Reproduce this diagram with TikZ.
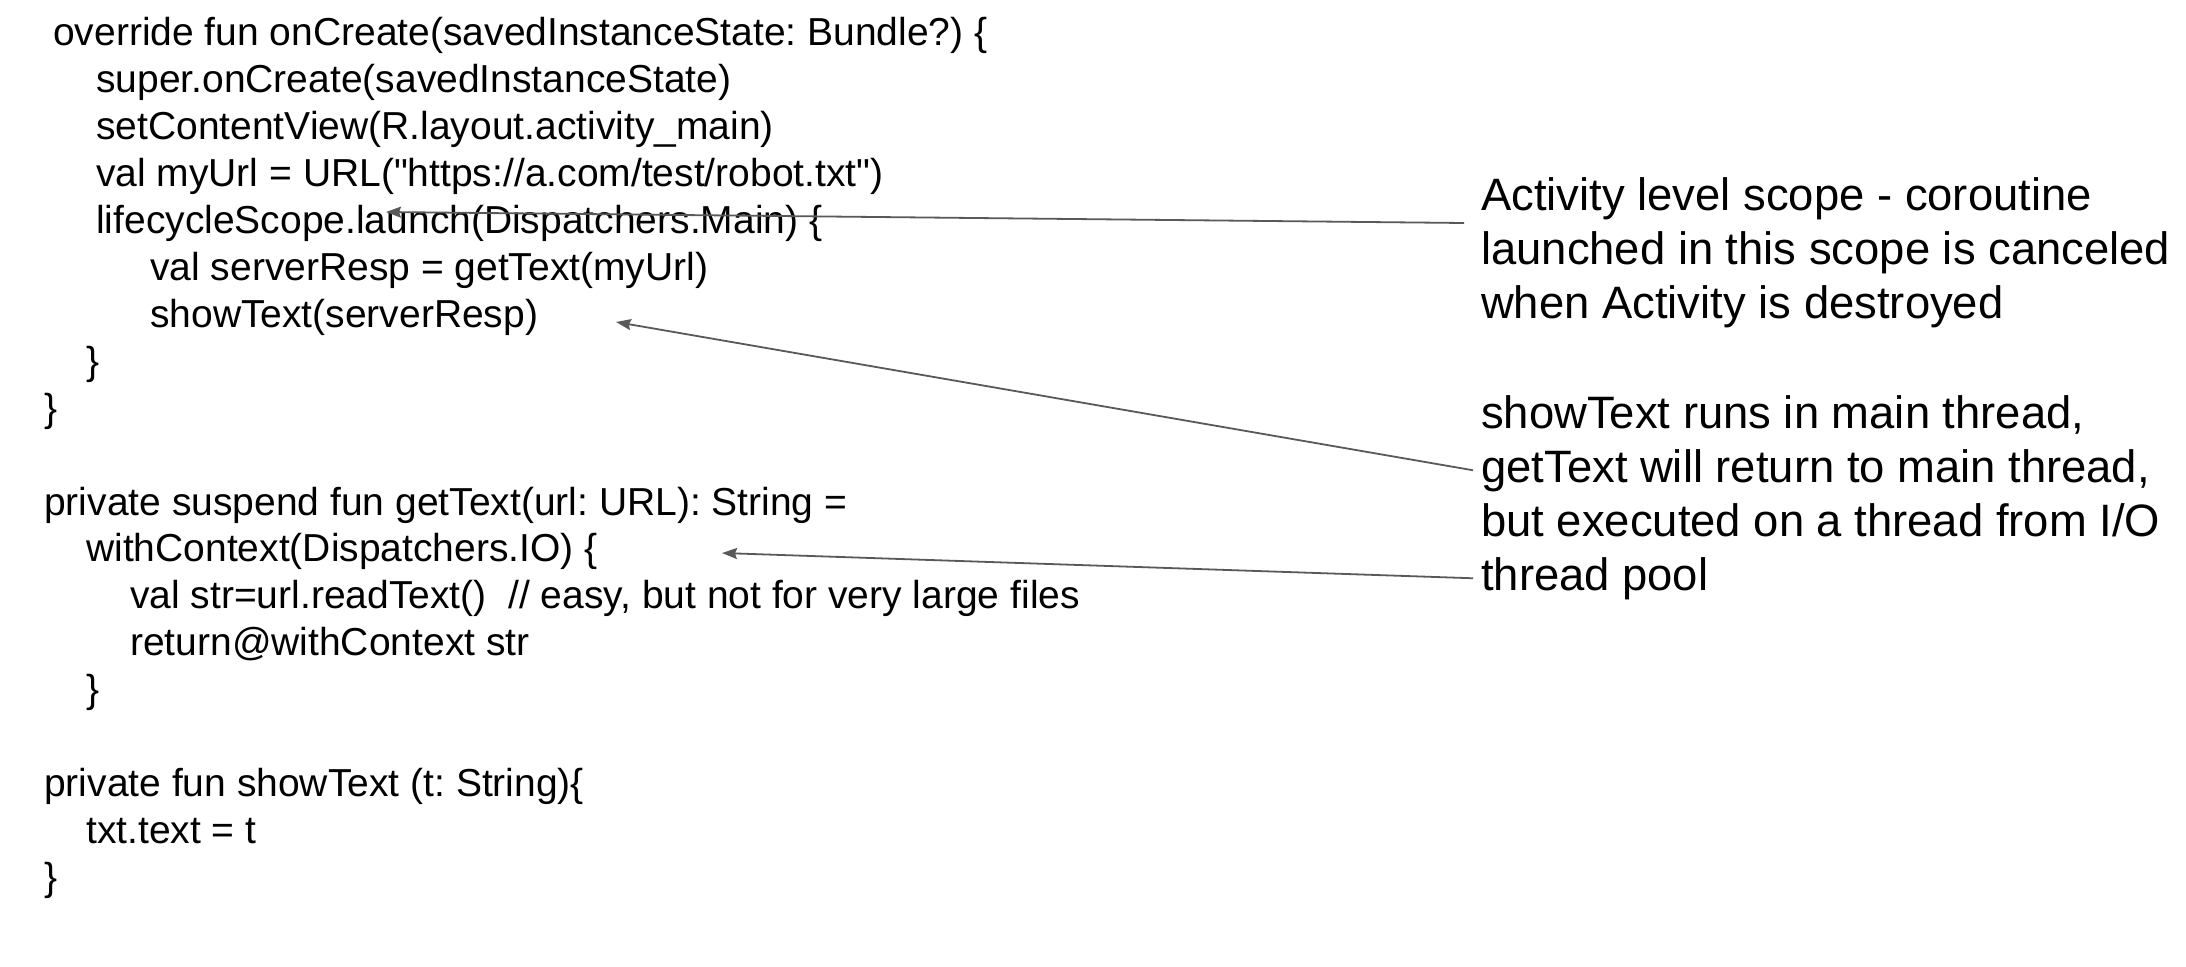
\documentclass[tikz,border=0pt]{standalone}
\usepackage{fontspec}
\setmainfont{Liberation Sans}
\usetikzlibrary{arrows.meta}
\definecolor{arrowgray}{HTML}{595959}
\frenchspacing

\begin{document}
\begin{tikzpicture}[x=1pt, y=-1pt,
    code/.style={anchor=base west, inner sep=0pt, font=\fontsize{39}{47}\selectfont},
    note/.style={anchor=base west, inner sep=0pt, font=\fontsize{45.4}{54}\selectfont},
    pointer/.style={draw=arrowgray, line width=1.8pt, -{Stealth[length=15pt, width=11pt, inset=2pt]}}]
    \useasboundingbox (0,0) rectangle (2186,966);

    \node[code] (oncreate) at (53,46) {override fun onCreate(savedInstanceState: Bundle?) \{};
    \node[code] (superline) at (96,92.9) {super.onCreate(savedInstanceState)};
    \node[code] (setview) at (96,139.8) {setContentView(R.layout.activity\_main)};
    \node[code] (myurl) at (96,186.7) {val myUrl = URL(\textquotedbl https://a.com/test/robot.txt\textquotedbl)};
    \node[code] (launch) at (96,233.6) {lifecycleScope.launch(Dispatchers.Main) \{};
    \node[code] (resp) at (150,280.5) {val serverResp = getText(myUrl)};
    \node[code] (show) at (150,327.4) {showText(serverResp)};
    \node[code] (closelaunch) at (86,374.3) {\}};
    \node[code] (closecreate) at (44,421.2) {\}};

    \node[code] (gettext) at (44,515) {private suspend fun getText(url: URL): String =};
    \node[code] (withctx) at (86,561.9) {withContext(Dispatchers.IO) \{};
    \node[code] (readtext) at (130,608.8) {val str=url.readText()\ \ // easy, but not for very large files};
    \node[code] (retctx) at (130,655.7) {return@withContext str};
    \node[code] (closectx) at (86,702.6) {\}};

    \node[code] (showfun) at (44,796.4) {private fun showText (t: String)\{};
    \node[code] (settxt) at (86,843.3) {txt.text = t};
    \node[code] (closeshow) at (44,890.2) {\}};

    \node[note] (scope1) at (1481,210) {Activity level scope - coroutine};
    \node[note] (scope2) at (1481,264) {launched in this scope is canceled};
    \node[note] (scope3) at (1481,318) {when Activity is destroyed};

    \node[note] (thread1) at (1481,428) {showText runs in main thread,};
    \node[note] (thread2) at (1481,482) {getText will return to main thread,};
    \node[note] (thread3) at (1481,536) {but executed on a thread from I/O};
    \node[note] (thread4) at (1481,590) {thread pool};

    \coordinate (launchtip) at (386,212);
    \coordinate (showtip) at (616,322);
    \coordinate (ctxtip) at (722,553);

    \draw[pointer] ([xshift=-17pt, yshift=-13pt]scope1.base west) -- (launchtip);
    \draw[pointer] ([xshift=-8pt]thread2.west) -- (showtip);
    \draw[pointer] ([xshift=-8pt]thread4.west) -- (ctxtip);
\end{tikzpicture}
\end{document}
